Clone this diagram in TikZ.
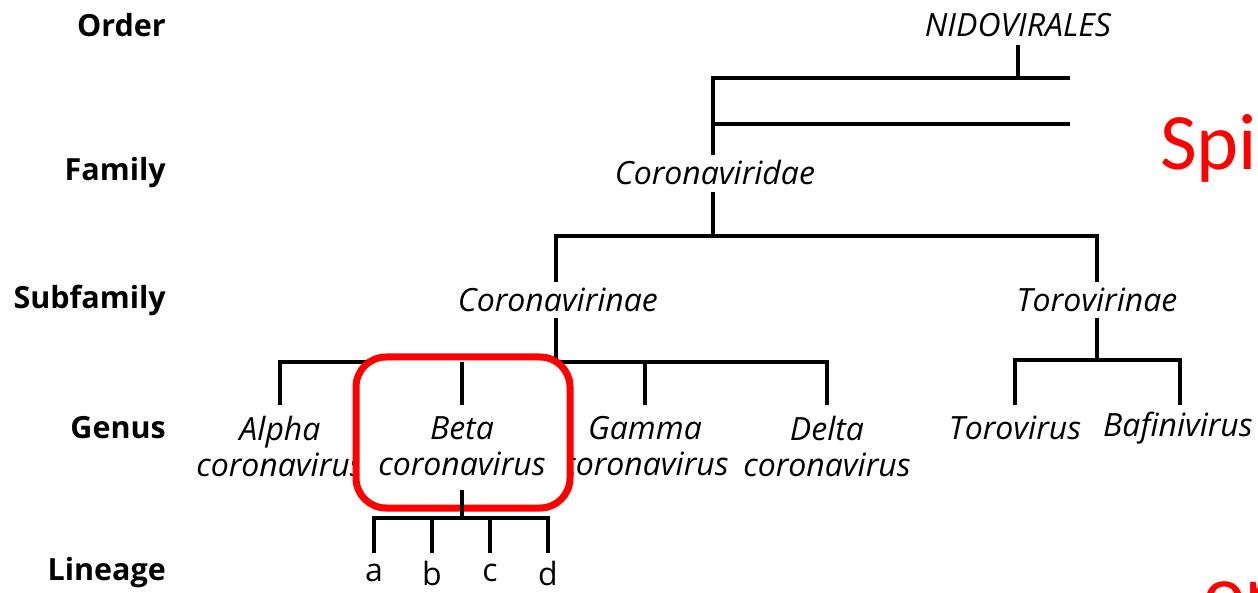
\documentclass[tikz,border=0pt]{standalone}
\usepackage{fontspec}
\setmainfont{Open Sans}
\newfontfamily\slidefont{Carlito}
\begin{document}
\begin{tikzpicture}[x=1pt,y=-1pt,
  tree/.style={line width=3.3pt},
  rank/.style={font=\fontsize{30.5}{34}\selectfont\bfseries, anchor=east, inner sep=0pt},
  taxon/.style={font=\fontsize{32}{36}\selectfont\itshape, inner sep=0pt, align=center},
  lin/.style={font=\fontsize{32}{36}\selectfont, inner sep=0pt},
  hilite/.style={draw=red, line width=7pt, rounded corners=30pt, fill=white},
  slide/.style={font=\fontsize{80}{90}\selectfont\slidefont, text=red, inner sep=0pt, anchor=base west}]
\useasboundingbox (0,0) rectangle (1258,593);
\clip (0,0) rectangle (1258,593);
% rank labels
\node[rank] (rOrder) at (166,25) {Order};
\node[rank] (rFamily) at (166,173) {Family};
\node[rank] (rSub) at (166,300) {Subfamily};
\node[rank] (rGenus) at (166,428) {Genus};
\node[rank] (rLin) at (166,573) {Lineage};
% taxa
\node[taxon] (nido) at (1018,25) {NIDOVIRALES};
\node[taxon] (corvir) at (715,173) {Coronaviridae};
\node[taxon] (corinae) at (558,300) {Coronavirinae};
\node[taxon] (torinae) at (1097,300) {Torovirinae};
\node[taxon] (alpha) at (280,446) {Alpha\\coronavirus};
\node[taxon] (gamma) at (645,446) {Gamma\\coronavirus};
\node[taxon] (delta) at (827,446) {Delta\\coronavirus};
\node[taxon] (torov) at (1015,428) {Torovirus};
\node[taxon] (bafin) at (1178,428) {Bafinivirus};
% joints
\coordinate (n1) at (1018,45);
\coordinate (n2) at (1018,78);
\coordinate (o1) at (1070,78);
\coordinate (o2) at (713,78);
\coordinate (o3) at (713,155);
\coordinate (o4) at (713,124);
\coordinate (o5) at (1070,124);
\coordinate (f1) at (713,192);
\coordinate (f2) at (713,236);
\coordinate (f3) at (556,282);
\coordinate (f4) at (556,236);
\coordinate (f5) at (1097,236);
\coordinate (f6) at (1097,282);
\coordinate (s1) at (556,318);
\coordinate (s2) at (556,362);
\coordinate (g1) at (280,405);
\coordinate (g2) at (280,362);
\coordinate (g3) at (827,362);
\coordinate (g4) at (827,405);
\coordinate (g5) at (645,362);
\coordinate (g6) at (645,405);
\coordinate (t1) at (1097,318);
\coordinate (t2) at (1097,360);
\coordinate (t3) at (1015,405);
\coordinate (t4) at (1015,360);
\coordinate (t5) at (1180,360);
\coordinate (t6) at (1180,405);
\draw[tree] (n1) -- (n2);
\draw[tree] (o1) -- (o2) -- (o3);
\draw[tree] (o4) -- (o5);
\draw[tree] (f1) -- (f2);
\draw[tree] (f3) -- (f4) -- (f5) -- (f6);
\draw[tree] (s1) -- (s2);
\draw[tree] (g1) -- (g2) -- (g3) -- (g4);
\draw[tree] (g5) -- (g6);
\draw[tree] (t1) -- (t2);
\draw[tree] (t3) -- (t4) -- (t5) -- (t6);
% highlight box
\node[hilite, minimum width=214pt, minimum height=151pt] (box) at (463,432.5) {};
\node[taxon] (beta) at (462,446) {Beta\\coronavirus};
\coordinate (b0) at (462,362);
\coordinate (b1) at (462,405);
\coordinate (b2) at (462,490);
\coordinate (b3) at (462,518);
\coordinate (l1) at (374,553);
\coordinate (l2) at (374,518);
\coordinate (l3) at (548,518);
\coordinate (l4) at (548,553);
\coordinate (l5) at (432,518);
\coordinate (l6) at (432,553);
\coordinate (l7) at (490,518);
\coordinate (l8) at (490,553);
\draw[tree] (b0) -- (b1);
\draw[tree] (b2) -- (b3);
\draw[tree] (l1) -- (l2) -- (l3) -- (l4);
\draw[tree] (l5) -- (l6);
\draw[tree] (l7) -- (l8);
\node[lin] (la) at (374,573) {a};
\node[lin] (lb) at (432,573) {b};
\node[lin] (lc) at (490,573) {c};
\node[lin] (ld) at (548,573) {d};
% slide fragments
\node[slide] (spi) at (1160,170) {Spi};
\node[slide] (orr) at (1203,620) {or};
\end{tikzpicture}
\end{document}
